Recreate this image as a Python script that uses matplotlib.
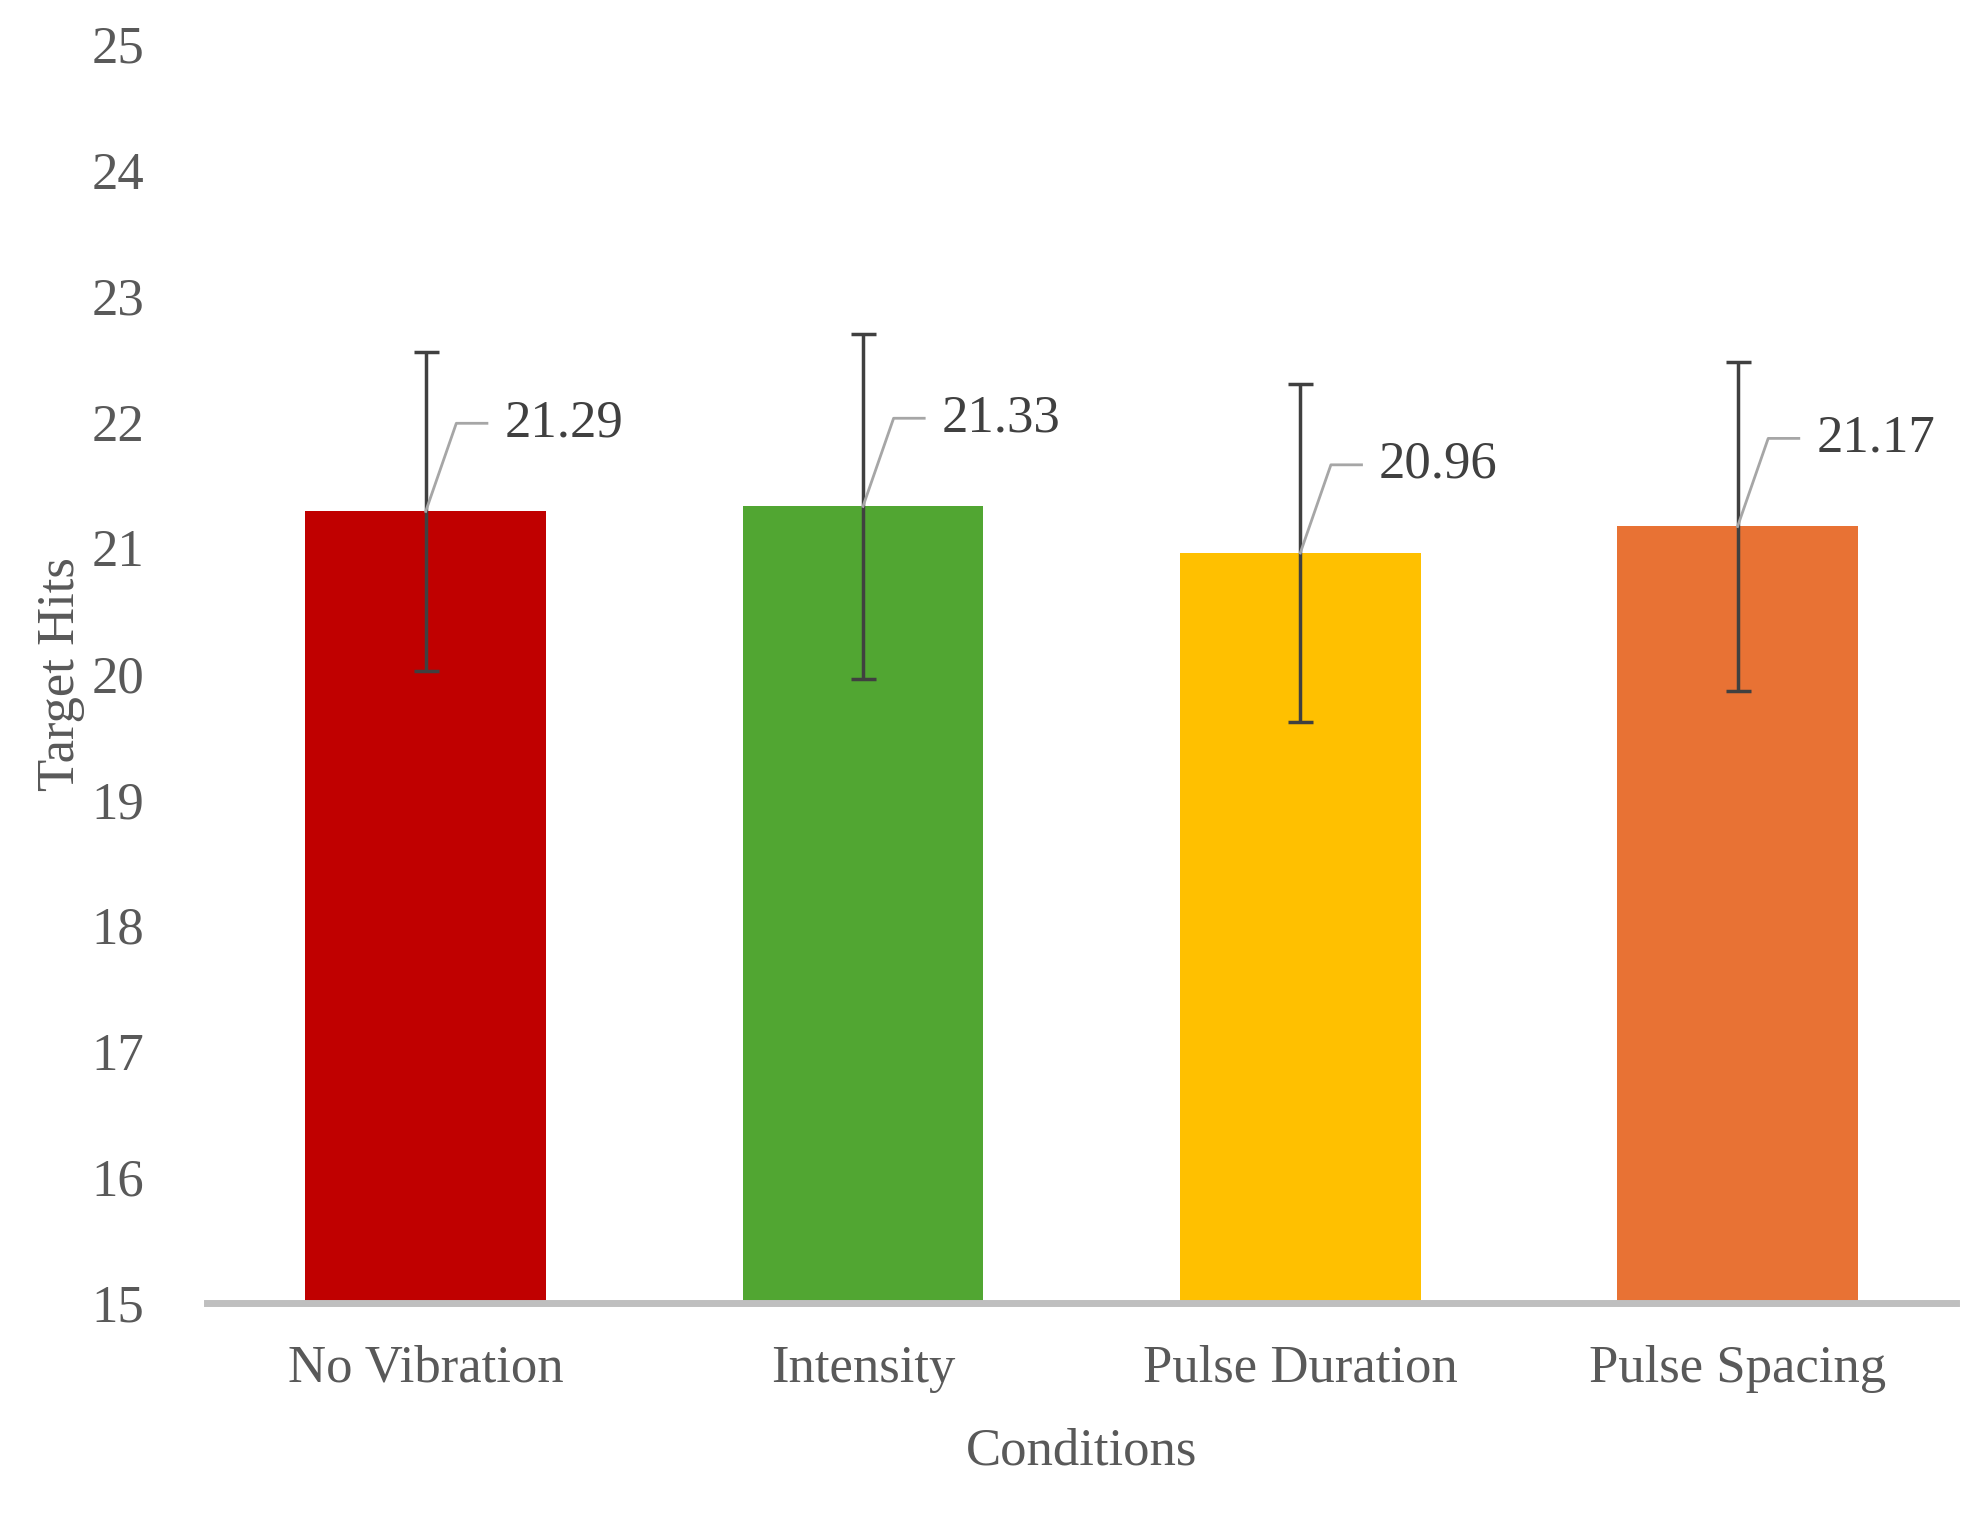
import matplotlib.pyplot as plt

conditions = ["No Vibration", "Intensity", "Pulse Duration", "Pulse Spacing"]
hits = [21.29, 21.33, 20.96, 21.17]
errors = [1.27, 1.37, 1.34, 1.31]
colors = ["#C00000", "#51A632", "#FFC000", "#E87234"]
yticks = list(range(15, 26))

plt.rcParams["font.family"] = "Liberation Serif"
gray = "#595959"

fig = plt.figure(figsize=(19.72, 15.33), dpi=100)
ax = fig.add_axes([0.105, 0.15, 0.887, 0.821])

x = range(len(conditions))
ax.bar(x, [h - 15 for h in hits], bottom=15, width=0.55, color=colors, zorder=2)
ax.errorbar(x, hits, yerr=errors, fmt="none", ecolor="#404040", elinewidth=2.5,
            capsize=9, capthick=2.5, zorder=3)

# data labels with leader lines
for i, h in enumerate(hits):
    ly = h + 0.7
    ax.plot([i, i + 0.07, i + 0.14], [h, ly, ly], color="#A6A6A6", lw=2, zorder=4)
    ax.text(i + 0.18, ly, f"{h:.2f}", fontsize=38, color="#404040", va="center", ha="left")

ax.set_xlim(-0.5, 3.5)
ax.set_ylim(15, 25)
ax.set_yticks(yticks)
ax.set_xticks(list(x))
ax.set_xticklabels(conditions)
ax.tick_params(length=0, labelsize=38, colors=gray, pad=30)
ax.tick_params(axis="y", pad=45)
for s in ["top", "right", "left"]:
    ax.spines[s].set_visible(False)
ax.spines["bottom"].set_color("#BFBFBF")
ax.spines["bottom"].set_linewidth(5)
ax.set_xlabel("Conditions", fontsize=38, color=gray, labelpad=25)
ax.set_ylabel("Target Hits", fontsize=38, color=gray, labelpad=5)

fig.savefig("out.png", dpi=100)
